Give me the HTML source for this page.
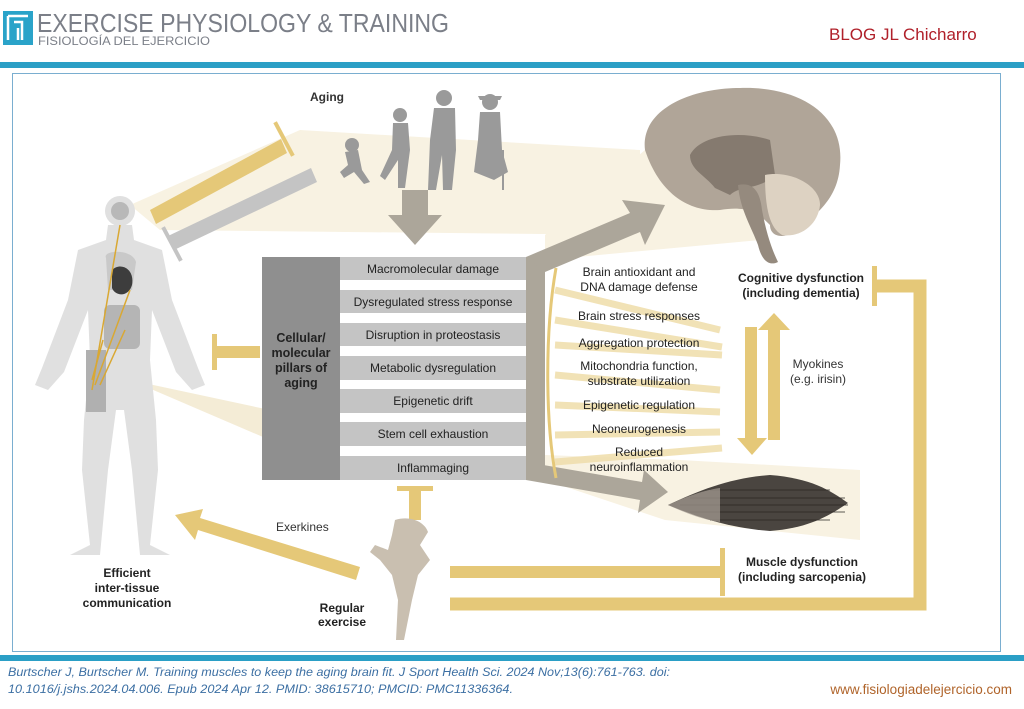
<!DOCTYPE html>
<html><head><meta charset="utf-8"><style>
html,body{margin:0;padding:0;background:#fff}
body{width:1024px;height:709px;overflow:hidden;position:relative;font-family:"Liberation Sans",sans-serif}
</style></head><body>
<svg width="1024" height="709" viewBox="0 0 1024 709" xmlns="http://www.w3.org/2000/svg" style="position:absolute;left:0;top:0" font-family="Liberation Sans, sans-serif">
<rect x="3" y="11" width="30" height="34" fill="#2aa3c9"/>
<path d="M8 16h20M8 16v24M14 22h8v18M18 28v12" stroke="#fff" stroke-width="2.5" fill="none"/>
<text x="37" y="32" font-size="26" fill="#7b7f88" textLength="412" lengthAdjust="spacingAndGlyphs">EXERCISE PHYSIOLOGY &amp; TRAINING</text>
<text x="38" y="45" font-size="12" fill="#7b7f88" textLength="172" lengthAdjust="spacingAndGlyphs">FISIOLOGÍA DEL EJERCICIO</text>
<text x="829" y="40" font-size="17" fill="#b0202a">BLOG JL Chicharro</text>
<rect x="0" y="62" width="1024" height="6" fill="#2b9fc6"/>
<rect x="12.5" y="73.5" width="988" height="578" fill="#fff" stroke="#7aaed0" stroke-width="1"/>
<rect x="0" y="655" width="1024" height="6" fill="#2b9fc6"/>
<text x="8" y="676" font-size="11.5" fill="#3c6fa3" font-style="italic" textLength="662" lengthAdjust="spacingAndGlyphs">Burtscher J, Burtscher M. Training muscles to keep the aging brain fit. J Sport Health Sci. 2024 Nov;13(6):761-763. doi:</text>
<text x="8" y="693" font-size="11.5" fill="#3c6fa3" font-style="italic" textLength="505" lengthAdjust="spacingAndGlyphs">10.1016/j.jshs.2024.04.006. Epub 2024 Apr 12. PMID: 38615710; PMCID: PMC11336364.</text>
<text x="1012" y="694" font-size="13.5" fill="#b0642a" text-anchor="end">www.fisiologiadelejercicio.com</text>

<polygon points="130,205 300,130 640,150 640,235 160,230" fill="#f8f2e2"/>
<polygon points="545,235 645,150 760,200 760,240 545,260" fill="#f8f2e2"/>
<polygon points="130,380 270,410 270,440" fill="#f4ecd6"/>
<polygon points="545,455 680,460 860,470 860,540 665,520 545,480" fill="#f8f2e2"/>

<path d="M645,150 C640,110 690,88 740,88 C800,86 845,115 840,165 C838,200 815,215 795,232 C780,240 770,235 770,225 C760,215 750,205 720,210 C690,212 660,195 645,150Z" fill="#b0a598"/>
<path d="M690,155 C700,135 740,130 770,140 L775,175 C760,190 740,185 730,195 L715,188 C705,175 690,170 690,155Z" fill="#857a6f"/>
<path d="M765,175 C790,170 820,185 820,205 C818,225 800,238 782,235 C770,228 765,210 765,175Z" fill="#ddd2c2"/>
<path d="M738,185 C752,182 760,190 762,210 C766,232 772,250 778,262 C770,266 762,262 758,245 C752,228 740,210 738,185Z" fill="#958a7e"/>

<g fill="#9a9a9a">
<circle cx="352" cy="145" r="7"/><path d="M345,152 L358,150 L362,170 L370,182 L364,184 L354,172 L344,178 L340,172 L348,165Z"/>
<circle cx="400" cy="115" r="7"/><path d="M393,123 L408,123 L410,150 L405,188 L398,188 L398,160 L385,180 L380,176 L392,150Z"/>
<circle cx="444" cy="98" r="8"/><path d="M434,108 L455,108 L456,150 L452,190 L443,190 L442,155 L436,190 L428,190 L430,140Z"/>
<circle cx="490" cy="102" r="8"/><path d="M478,96 L502,96 L500,100 L480,100Z"/><path d="M480,112 L500,112 L502,150 L508,172 L494,180 L474,172 L478,140Z"/><rect x="502" y="150" width="2" height="40"/>
</g>
<text x="327" y="101" font-size="12" font-weight="bold" fill="#333" text-anchor="middle">Aging</text>
<polygon points="402,190 428,190 428,215 442,215 415,245 388,215 402,215" fill="#aca69a"/>

<polygon points="150,210 156,224 287,153 281,139" fill="#e5c878"/>
<rect x="282" y="120" width="4" height="38" fill="#e5c878" transform="rotate(-28 284 139)"/>
<polygon points="168,236 174,250 317,182 311,168" fill="#c4c4c4"/>
<rect x="170" y="225" width="4" height="38" fill="#c4c4c4" transform="rotate(-28 172 244)"/>

<g fill="#e0e0e0">
<circle cx="120" cy="211" r="15"/>
<path d="M108,225 L132,225 L134,240 L162,250 L172,300 L198,368 L205,385 L192,390 L176,372 L152,310 L150,360 L156,420 L158,470 L150,545 L170,555 L140,555 L132,470 L124,410 L116,410 L108,470 L100,555 L70,555 L90,545 L82,470 L84,420 L90,360 L88,310 L64,372 L48,390 L35,385 L42,368 L68,300 L78,250 L106,240Z"/>
</g>
<circle cx="120" cy="211" r="9" fill="#b8b8b8"/>
<path d="M106,258 C102,250 132,248 136,262 L132,290 L108,290Z" fill="#c9c9c9"/>
<path d="M112,270 C120,262 135,268 132,285 C128,298 115,296 112,288Z" fill="#3d3d3d"/>
<rect x="104" y="305" width="36" height="44" rx="6" fill="#b5b5b5"/>
<rect x="86" y="350" width="20" height="62" fill="#b0b0b0"/>
<g stroke="#d9a833" stroke-width="1.5" fill="none">
<path d="M92,390 L120,225"/><path d="M95,385 L130,290"/><path d="M100,385 L125,330"/><path d="M92,380 L103,340"/>
</g>

<rect x="214" y="346" width="46" height="12" fill="#e5c878"/><rect x="212" y="334" width="5" height="36" fill="#e5c878"/>

<rect x="262" y="257" width="78" height="223" fill="#8f8f8f"/>
<text font-size="12.5" font-weight="bold" fill="#222" text-anchor="middle"><tspan x="301" y="342">Cellular/</tspan><tspan x="301" y="357">molecular</tspan><tspan x="301" y="372">pillars of</tspan><tspan x="301" y="387">aging</tspan></text>
<g fill="#c4c4c4">
<rect x="340" y="257" width="186" height="23"/><rect x="340" y="290" width="186" height="23"/><rect x="340" y="323" width="186" height="23"/><rect x="340" y="356" width="186" height="24"/><rect x="340" y="389" width="186" height="24"/><rect x="340" y="422" width="186" height="24"/><rect x="340" y="456" width="186" height="24"/>
</g>
<g font-size="12" fill="#222" text-anchor="middle">
<text x="433" y="273">Macromolecular damage</text><text x="433" y="306">Dysregulated stress response</text><text x="433" y="339">Disruption in proteostasis</text><text x="433" y="372">Metabolic dysregulation</text><text x="433" y="405">Epigenetic drift</text><text x="433" y="438">Stem cell exhaustion</text><text x="433" y="472">Inflammaging</text>
</g>
<polygon points="526,257 526,480 545,480 545,262" fill="#aca69a"/>
<polygon points="526,257 545,272 640,232 645,245 665,205 622,200 630,213" fill="#aca69a"/>
<polygon points="526,462 526,480 640,500 638,513 668,492 644,470 642,482" fill="#aca69a"/>

<g stroke="#f0dfaf" stroke-width="7" opacity="0.9">
<line x1="555" y1="290" x2="720" y2="330"/><line x1="555" y1="320" x2="722" y2="347"/><line x1="555" y1="345" x2="722" y2="355"/><line x1="555" y1="375" x2="720" y2="390"/><line x1="555" y1="405" x2="720" y2="412"/><line x1="555" y1="435" x2="720" y2="432"/><line x1="555" y1="462" x2="722" y2="448"/>
</g>
<path d="M556,268 C545,330 545,420 556,478" stroke="#e5c878" stroke-width="3" fill="none"/>
<g font-size="12" fill="#222" text-anchor="middle">
<text x="639" y="276">Brain antioxidant and</text><text x="639" y="291">DNA damage defense</text>
<text x="639" y="320">Brain stress responses</text>
<text x="639" y="347">Aggregation protection</text>
<text x="639" y="370">Mitochondria function,</text><text x="639" y="385">substrate utilization</text>
<text x="639" y="409">Epigenetic regulation</text>
<text x="639" y="433">Neoneurogenesis</text>
<text x="639" y="456">Reduced</text><text x="639" y="471">neuroinflammation</text>
</g>

<path d="M668,505 C700,490 730,478 770,475 C810,478 830,490 848,503 C830,515 810,528 770,531 C730,528 700,518 668,505Z" fill="#4a4540"/>
<g stroke="#2a2622" stroke-width="0.8"><line x1="690" y1="498" x2="845" y2="498"/><line x1="680" y1="505" x2="848" y2="505"/><line x1="690" y1="512" x2="845" y2="512"/><line x1="710" y1="490" x2="830" y2="490"/><line x1="710" y1="520" x2="830" y2="520"/></g>
<path d="M668,505 C690,495 705,490 720,488 L720,522 C705,520 690,515 668,505Z" fill="#a89f95" opacity="0.7"/>

<g font-size="12" font-weight="bold" fill="#222" text-anchor="middle">
<text x="801" y="282">Cognitive dysfunction</text><text x="801" y="297">(including dementia)</text>
<text x="802" y="566">Muscle dysfunction</text><text x="802" y="581">(including sarcopenia)</text>
<text x="127" y="577">Efficient</text><text x="127" y="592">inter-tissue</text><text x="127" y="607">communication</text>
<text x="342" y="612">Regular</text><text x="342" y="626">exercise</text>
</g>
<text font-size="12" fill="#333" text-anchor="middle"><tspan x="818" y="368">Myokines</tspan><tspan x="818" y="383">(e.g. irisin)</tspan></text>
<text x="276" y="531" font-size="12" fill="#333">Exerkines</text>

<polygon points="768,330 768,440 780,440 780,330 790,330 774,313 758,330" fill="#e5c878"/>
<polygon points="745,327 745,438 737,438 752,455 767,438 757,438 757,327" fill="#e5c878"/>

<path d="M450,604 H920 V286 H877" stroke="#e5c878" stroke-width="13" fill="none"/>
<rect x="872" y="266" width="5" height="40" fill="#e5c878"/>
<rect x="450" y="566" width="272" height="12" fill="#e5c878"/>
<rect x="720" y="548" width="5" height="48" fill="#e5c878"/>
<rect x="397" y="486" width="36" height="5" fill="#e5c878"/><rect x="409" y="488" width="12" height="32" fill="#e5c878"/>
<polygon points="360,567 356,580 198,530 195,540 175,515 203,509 200,518" fill="#e5c878"/>
<path d="M395,520 C410,515 425,522 428,532 L420,545 L430,560 L418,575 L412,600 L404,640 L396,640 L398,600 L392,575 L380,560 L370,552 L375,545 L388,550 L392,535Z" fill="#c9bfb0"/>
</svg>
</body></html>
